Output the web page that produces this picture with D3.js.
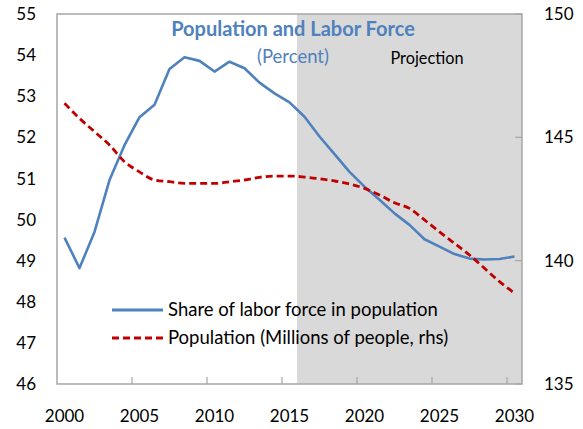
<!DOCTYPE html>
<html>
<head>
<meta charset="utf-8">
<script src="https://cdn.jsdelivr.net/npm/d3@7"></script>
<style>
  body { margin: 0; background: #fff; }
  text { font-family: Lato, "Open Sans", sans-serif; }
</style>
</head>
<body>
<div id="container"></div>
<script>
const years = d3.range(2000, 2031)
const laborShare = [49.56, 48.82, 49.70, 50.96, 51.81, 52.49, 52.79, 53.66, 53.95, 53.86,
  53.60, 53.84, 53.68, 53.33, 53.07, 52.85, 52.50, 52.02, 51.59, 51.16,
  50.80, 50.48, 50.15, 49.87, 49.52, 49.34, 49.16, 49.05, 49.03, 49.04, 49.10]
const population = [146.38, 145.77, 145.23, 144.69, 144.01, 143.60, 143.27, 143.20, 143.13, 143.13,
  143.13, 143.20, 143.27, 143.38, 143.43, 143.43, 143.39, 143.32, 143.23, 143.11,
  142.93, 142.66, 142.35, 142.12, 141.65, 141.17, 140.70, 140.23, 139.69, 139.15, 138.68]
const leftTicks = d3.range(46, 56)
const rightTicks = [135, 140, 145, 150]
const xTickYears = [2000, 2005, 2010, 2015, 2020, 2025, 2030]
const projectionStart = 2016

const width = 583
const height = 429
const plotLeft = 57, plotRight = 522, plotTop = 14, plotBottom = 384
const axiscolor = "#a6a6a6"
const bluecolor = "#4f81bd"
const redcolor = "#c00000"

const svg = d3.select("#container").append("svg").attr("width", width).attr("height", height)

const x = d3.scaleBand().domain(years).range([plotLeft, plotRight]).padding(0)
const bw = x.bandwidth()
const cx = d => x(d) + bw / 2
const yL = d3.scaleLinear().domain([46, 55]).range([plotBottom, plotTop])
const yR = d3.scaleLinear().domain([135, 150]).range([plotBottom, plotTop])

// projection shading
svg.append("rect")
  .attr("x", x(projectionStart)).attr("y", plotTop)
  .attr("width", plotRight - x(projectionStart)).attr("height", plotBottom - plotTop)
  .attr("fill", "#d9d9d9")

// plot border
svg.append("rect")
  .attr("x", plotLeft).attr("y", plotTop)
  .attr("width", plotRight - plotLeft).attr("height", plotBottom - plotTop)
  .attr("fill", "none").attr("stroke", axiscolor).attr("stroke-width", 1.5)

// bottom ticks (pointing in)
svg.selectAll(".xtick").data(xTickYears.slice(1)).enter().append("line")
  .attr("x1", d => x(d)).attr("x2", d => x(d))
  .attr("y1", plotBottom).attr("y2", plotBottom - 7)
  .attr("stroke", axiscolor).attr("stroke-width", 1.2)

// right ticks (pointing in)
svg.selectAll(".rtick").data(rightTicks).enter().append("line")
  .attr("x1", plotRight).attr("x2", plotRight - 7)
  .attr("y1", d => yR(d)).attr("y2", d => yR(d))
  .attr("stroke", axiscolor).attr("stroke-width", 1.2)

// tick labels
svg.selectAll(".xlab").data(xTickYears).enter().append("text")
  .attr("x", d => cx(d)).attr("y", 422)
  .attr("text-anchor", "middle").attr("font-size", 17).attr("fill", "#000")
  .text(d => d)

svg.selectAll(".llab").data(leftTicks).enter().append("text")
  .attr("x", 36).attr("y", d => yL(d)).attr("dy", "0.36em")
  .attr("text-anchor", "end").attr("font-size", 17).attr("fill", "#000")
  .text(d => d)

svg.selectAll(".rlab").data(rightTicks).enter().append("text")
  .attr("x", 544).attr("y", d => yR(d)).attr("dy", "0.36em")
  .attr("text-anchor", "start").attr("font-size", 17).attr("fill", "#000")
  .text(d => d)

// lines
const blueLine = d3.line().x((d, i) => cx(years[i])).y(d => yL(d))
svg.append("path").datum(laborShare)
  .attr("d", blueLine)
  .attr("fill", "none").attr("stroke", bluecolor).attr("stroke-width", 2.6)
  .attr("stroke-linejoin", "round")

const redLine = d3.line().x((d, i) => cx(years[i])).y(d => yR(d)).curve(d3.curveMonotoneX)
svg.append("path").datum(population)
  .attr("d", redLine)
  .attr("fill", "none").attr("stroke", redcolor).attr("stroke-width", 2.8)
  .attr("stroke-dasharray", "7,4")

// titles
svg.append("text").attr("x", 293).attr("y", 36)
  .attr("text-anchor", "middle").attr("font-size", 20).attr("font-weight", "bold")
  .attr("fill", bluecolor).text("Population and Labor Force")
svg.append("text").attr("x", 293).attr("y", 63)
  .attr("text-anchor", "middle").attr("font-size", 18.5)
  .attr("fill", bluecolor).text("(Percent)")
svg.append("text").attr("x", 427).attr("y", 64)
  .attr("text-anchor", "middle").attr("font-size", 16.3)
  .attr("fill", "#000").text("Projection")

// legend
const legend = [
  { label: "Share of labor force in population", color: bluecolor, dash: null, y: 310 },
  { label: "Population (Millions of people, rhs)", color: redcolor, dash: "7,4", y: 338 }
]
legend.forEach(l => {
  svg.append("line").attr("x1", 112).attr("x2", 163).attr("y1", l.y).attr("y2", l.y)
    .attr("stroke", l.color).attr("stroke-width", 2.8)
    .attr("stroke-dasharray", l.dash)
  svg.append("text").attr("x", 168).attr("y", l.y).attr("dy", "0.35em")
    .attr("font-size", 18.5).attr("fill", "#000").text(l.label)
})
</script>
</body>
</html>
